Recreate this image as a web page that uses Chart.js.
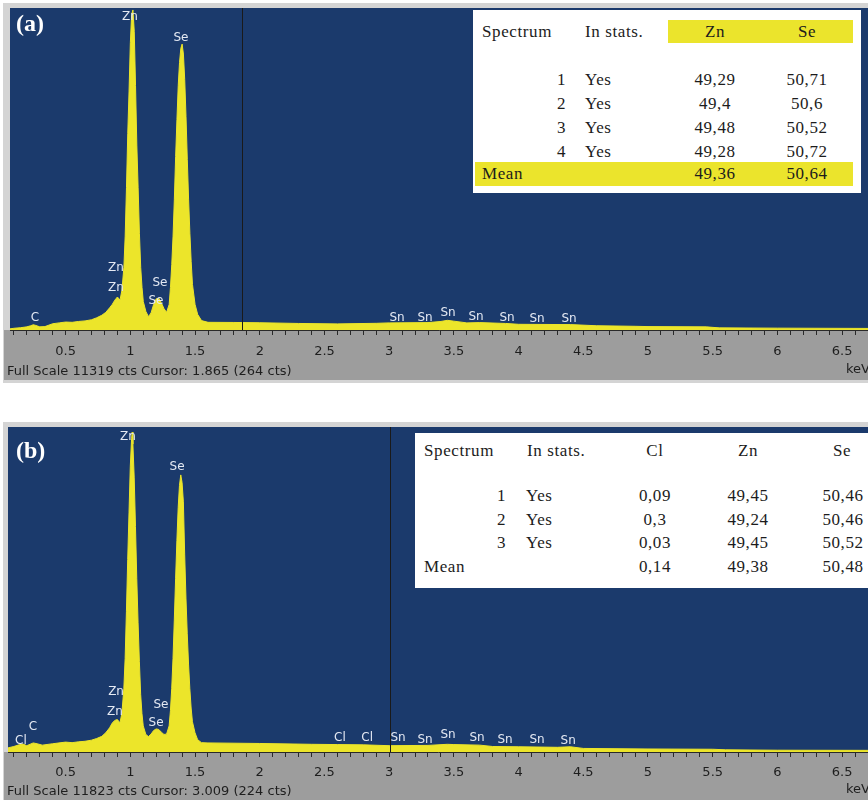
<!DOCTYPE html>
<html>
<head>
<meta charset="utf-8">
<script src="https://cdn.jsdelivr.net/npm/chart.js@4.4.1/dist/chart.umd.min.js"></script>
<style>
body { margin: 0; background: #fff; width: 868px; height: 800px; position: relative; overflow: hidden; font-family: "Liberation Serif", serif; }
canvas { position: absolute; left: 0; }
#cA { top: 0; }
#cB { top: 419px; }
.t { position: absolute; font-size: 17px; line-height: 20px; color: #1c1c1c; white-space: nowrap; letter-spacing: 0.6px; }
.c { transform: translateX(-50%); }
.r { transform: translateX(-100%); }
.box { position: absolute; background: #fff; }
.hl { position: absolute; background: #ebe42c; }
.tag { position: absolute; color: #fff; font: bold 24px "Liberation Serif", serif; }
</style>
</head>
<body>
<canvas id="cA" width="868" height="383"></canvas>
<canvas id="cB" width="868" height="381"></canvas>
<div class="tag" style="left:16px;top:10px">(a)</div>
<div class="tag" style="left:16px;top:437px">(b)</div>
<div id="tables"></div>
<script>
// spectrum (a): energy in keV, counts
const energyA = [0.07,0.10,0.15,0.20,0.23,0.25,0.27,0.30,0.34,0.40,0.45,0.50,0.55,0.60,0.65,0.70,0.74,0.78,0.81,0.84,0.86,0.88,0.90,0.92,0.935,0.95,0.96,0.97,0.98,0.99,1.00,1.01,1.02,1.03,1.04,1.05,1.06,1.07,1.08,1.09,1.10,1.12,1.14,1.16,1.18,1.20,1.22,1.24,1.26,1.28,1.30,1.31,1.32,1.33,1.34,1.35,1.36,1.37,1.38,1.39,1.40,1.41,1.42,1.43,1.44,1.45,1.46,1.47,1.48,1.50,1.52,1.55,1.60,1.80,2.00,2.30,2.60,2.90,3.00,3.30,3.40,3.45,3.50,3.60,3.70,3.90,4.00,4.40,4.60,4.90,5.00,5.45,5.55,6.00,6.70];
const countsA = [40,60,80,110,150,185,160,110,120,220,250,280,270,300,320,360,430,520,620,780,900,1050,1160,1050,1400,2200,3300,5000,6900,8400,10100,11100,11250,10500,8600,6500,5000,3400,2200,1500,1000,650,470,600,900,1100,1120,950,750,620,900,1500,2300,3300,4600,6100,7400,8600,9400,9900,10050,9700,8800,7500,6000,4600,3400,2400,1600,900,550,330,270,265,255,230,215,235,250,260,300,340,310,250,260,230,200,190,150,130,120,110,75,65,55];

// spectrum (b)
const energyB = [0.055,0.10,0.14,0.17,0.20,0.25,0.28,0.32,0.40,0.50,0.55,0.60,0.65,0.70,0.74,0.78,0.81,0.84,0.86,0.88,0.90,0.92,0.935,0.95,0.96,0.97,0.98,0.99,1.00,1.01,1.015,1.02,1.03,1.04,1.05,1.06,1.07,1.08,1.09,1.10,1.12,1.14,1.16,1.18,1.20,1.22,1.24,1.26,1.28,1.30,1.31,1.32,1.33,1.34,1.35,1.36,1.37,1.38,1.39,1.40,1.41,1.42,1.43,1.44,1.45,1.46,1.47,1.48,1.50,1.52,1.55,1.60,2.00,2.40,2.60,2.80,3.00,3.30,3.45,3.50,3.70,3.80,4.00,4.30,4.40,4.50,5.00,5.50,5.60,6.00,6.70];
const countsB = [150,200,260,290,230,330,300,250,300,360,340,370,390,430,490,570,700,880,1050,1150,1180,1060,1400,2300,3400,5100,7000,8700,10400,11400,11640,11200,10000,8200,6300,4700,3300,2100,1400,950,640,560,650,780,840,820,720,640,650,950,1500,2300,3400,4800,6300,7700,8900,9700,10080,9800,9100,7200,5600,4300,3200,2300,1600,1100,700,450,340,330,310,280,270,260,230,240,280,270,250,200,190,170,190,130,110,100,80,65,60];

// peak labels
const peakNamesA = ['Zn','Se','Zn','Zn','Se','Se','C','Sn','Sn','Sn','Sn','Sn','Sn','Sn'];
const peakEnergyA = [0.997,1.391,0.889,0.889,1.229,1.198,0.263,3.061,3.277,3.455,3.671,3.911,4.143,4.390];
const peakCountsA = [11000,10260,2180,1476,1652,1020,420,420,420,600,457,420,387,387];

const peakNamesB = ['Zn','Se','Zn','Zn','Se','Se','C','Cl','Cl','Cl','Sn','Sn','Sn','Sn','Sn','Sn','Sn'];
const peakEnergyB = [0.982,1.361,0.890,0.882,1.237,1.199,0.248,0.155,2.620,2.830,3.069,3.277,3.455,3.679,3.896,4.143,4.383];
const peakCountsB = [11466,10374,2184,1456,1710,1056,910,400,510,510,510,437,620,510,437,437,400];

// acquisition info
const fullScaleA = 11319, cursorA = 1.865, cursorCtsA = 264;
const fullScaleB = 11823, cursorB = 3.009, cursorCtsB = 224;

// composition tables
const spectraA = ['1','2','3','4'];
const znA = ['49,29','49,4','49,48','49,28'];
const seA = ['50,71','50,6','50,52','50,72'];
const meanA = ['49,36','50,64'];

const spectraB = ['1','2','3'];
const clB = ['0,09','0,3','0,03'];
const znB = ['49,45','49,24','49,45'];
const seB = ['50,46','50,46','50,52'];
const meanB = ['0,14','49,38','50,48'];

const BLUE = '#1b3a6c';
const YELLOW = '#ece52a';

const framePlugin = {
    id: 'frame',
    beforeDraw(chart, args, o) {
        const c = chart.ctx, a = chart.chartArea;
        c.save();
        c.fillStyle = '#ffffff';
        c.fillRect(0, 0, chart.width, chart.height);
        c.fillStyle = '#d4d4d4';
        c.fillRect(3, 3, chart.width - 3, o.frameBottom - 3);
        c.fillStyle = '#9d9d9d';
        c.fillRect(4, a.bottom, chart.width - 4, o.bandBottom - a.bottom);
        c.fillStyle = BLUE;
        c.fillRect(a.left, a.top, a.right - a.left, a.bottom - a.top);
        c.restore();
    },
    afterDatasetsDraw(chart, args, o) {
        const c = chart.ctx, a = chart.chartArea;
        const xs = chart.scales.x, ys = chart.scales.y;
        c.save();
        // cursor
        const cx = Math.round(xs.getPixelForValue(o.cursor)) + 0.5;
        c.strokeStyle = '#1a1a1a';
        c.lineWidth = 1;
        c.beginPath();
        c.moveTo(cx, a.top);
        c.lineTo(cx, a.bottom);
        c.stroke();
        // peak names
        c.font = '12px "DejaVu Sans"';
        c.fillStyle = '#e4e9f3';
        c.textAlign = 'center';
        c.textBaseline = 'middle';
        o.names.forEach((n, i) => {
            c.fillText(n, xs.getPixelForValue(o.ens[i]), ys.getPixelForValue(o.cts[i]));
        });
        c.restore();
    },
    afterDraw(chart, args, o) {
        const c = chart.ctx;
        c.save();
        c.font = '13px "DejaVu Sans"';
        c.fillStyle = '#1e1e1e';
        c.textBaseline = 'middle';
        c.textAlign = 'left';
        c.fillText('Full Scale ' + o.fullScale + ' cts Cursor: ' + o.cursor.toFixed(3) + ' (' + o.cursorCts + ' cts)', 7, o.footY);
        c.fillText('keV', 846, o.footY - 2);
        c.restore();
    }
};

function makeChart(id, energies, counts, xMin, padLeft, axisH, tickPad, frame) {
    return new Chart(document.getElementById(id), {
        type: 'line',
        data: {
            datasets: [{
                data: energies.map((e, i) => ({ x: e, y: counts[i] })),
                borderColor: YELLOW,
                backgroundColor: YELLOW,
                borderWidth: 1,
                pointRadius: 0,
                fill: 'origin',
                tension: 0
            }]
        },
        options: {
            responsive: false,
            animation: false,
            layout: { padding: { left: padLeft, top: 8, right: 0, bottom: 0 } },
            plugins: { legend: { display: false }, tooltip: { enabled: false }, frame: frame },
            scales: {
                x: {
                    type: 'linear', min: xMin, max: 6.70,
                    afterFit: s => { s.height = axisH; s.paddingLeft = 0; s.paddingRight = 0; },
                    border: { color: '#2a2a2a' },
                    grid: { drawOnChartArea: false, tickLength: 5, color: '#2a2a2a' },
                    ticks: {
                        stepSize: 0.1, includeBounds: false, autoSkip: false, maxRotation: 0,
                        maxTicksLimit: 200, padding: tickPad, color: '#1e1e1e',
                        font: { family: 'DejaVu Sans', size: 13 },
                        callback: v => Math.abs(v * 2 - Math.round(v * 2)) < 1e-6 ? String(v) : ''
                    }
                },
                y: { display: false, min: 0, max: frame.fullScale }
            }
        },
        plugins: [framePlugin]
    });
}

makeChart('cA', energyA, countsA, 0.07, 10, 53, 9, {
    cursor: cursorA, cursorCts: cursorCtsA, fullScale: fullScaleA,
    names: peakNamesA, ens: peakEnergyA, cts: peakCountsA,
    frameBottom: 383, bandBottom: 380, footY: 372
});
makeChart('cB', energyB, countsB, 0.055, 8, 48, 8, {
    cursor: cursorB, cursorCts: cursorCtsB, fullScale: fullScaleB,
    names: peakNamesB, ens: peakEnergyB, cts: peakCountsB,
    frameBottom: 381, bandBottom: 381, footY: 373
});

// tables
const host = document.getElementById('tables');
function rect(cls, l, t, w, h) {
    const d = document.createElement('div');
    d.className = cls;
    d.style.cssText = `left:${l}px;top:${t}px;width:${w}px;height:${h}px`;
    host.appendChild(d);
}
function txt(s, x, yc, align) {
    const d = document.createElement('div');
    d.className = 't' + (align ? ' ' + align : '');
    d.textContent = s;
    d.style.left = x + 'px';
    d.style.top = (yc - 10) + 'px';
    host.appendChild(d);
}

// table (a)
rect('box', 473, 10, 388, 183);
rect('hl', 668, 20, 185, 23);
rect('hl', 475, 162, 378, 24);
txt('Spectrum', 482, 32);
txt('In stats.', 585, 32);
txt('Zn', 715, 32, 'c');
txt('Se', 807, 32, 'c');
const rowYA = [80, 104, 128, 152];
spectraA.forEach((s, i) => {
    txt(s, 566, rowYA[i], 'r');
    txt('Yes', 585, rowYA[i]);
    txt(znA[i], 715, rowYA[i], 'c');
    txt(seA[i], 807, rowYA[i], 'c');
});
txt('Mean', 482, 174);
txt(meanA[0], 715, 174, 'c');
txt(meanA[1], 807, 174, 'c');

// table (b)
rect('box', 415, 433, 453, 155);
txt('Spectrum', 424, 451);
txt('In stats.', 527, 451);
txt('Cl', 655, 451, 'c');
txt('Zn', 748, 451, 'c');
txt('Se', 842, 451, 'c');
const rowYB = [496, 520, 543];
spectraB.forEach((s, i) => {
    txt(s, 506, rowYB[i], 'r');
    txt('Yes', 526, rowYB[i]);
    txt(clB[i], 655, rowYB[i], 'c');
    txt(znB[i], 748, rowYB[i], 'c');
    txt(seB[i], 843, rowYB[i], 'c');
});
txt('Mean', 424, 567);
txt(meanB[0], 655, 567, 'c');
txt(meanB[1], 748, 567, 'c');
txt(meanB[2], 843, 567, 'c');
</script>
</body>
</html>
